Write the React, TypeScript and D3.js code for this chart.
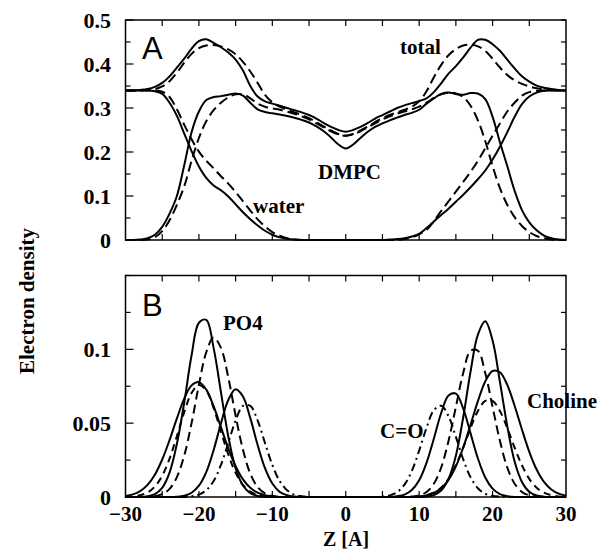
import React from "react";
import * as d3 from "d3";

// z grid: -30..30 step 1 Å
const zValues: number[] = d3.range(-30, 31, 1);

// Panel A: electron densities
const totalSolid = [
  0.340, 0.340, 0.341, 0.343, 0.348, 0.357, 0.372, 0.392, 0.412, 0.435,
  0.452, 0.456, 0.448, 0.438, 0.426, 0.410, 0.385, 0.350, 0.326, 0.315,
  0.310, 0.305, 0.300, 0.295, 0.290, 0.284, 0.276, 0.266, 0.257, 0.250,
  0.246,
  0.250, 0.257, 0.266, 0.276, 0.284, 0.292, 0.300, 0.306, 0.311, 0.316,
  0.322, 0.336, 0.356, 0.378, 0.395, 0.415, 0.437, 0.455, 0.455, 0.445,
  0.430, 0.410, 0.390, 0.372, 0.360, 0.351, 0.346, 0.343, 0.341, 0.340,
];
const totalDashed = [
  0.340, 0.340, 0.340, 0.341, 0.343, 0.349, 0.361, 0.380, 0.403, 0.423,
  0.436, 0.442, 0.443, 0.440, 0.433, 0.422, 0.405, 0.383, 0.357, 0.330,
  0.313, 0.303, 0.296, 0.290, 0.284, 0.277, 0.268, 0.258, 0.249, 0.241,
  0.237,
  0.241, 0.249, 0.258, 0.268, 0.277, 0.284, 0.290, 0.296, 0.303, 0.315,
  0.338, 0.370, 0.398, 0.420, 0.434, 0.442, 0.444, 0.440, 0.430, 0.412,
  0.392, 0.375, 0.363, 0.355, 0.349, 0.345, 0.342, 0.341, 0.340, 0.340,
];
const dmpcSolid = [
  0.000, 0.000, 0.001, 0.004, 0.012, 0.030, 0.060, 0.100, 0.170, 0.245,
  0.292, 0.318, 0.325, 0.327, 0.330, 0.333, 0.328, 0.312, 0.297, 0.291,
  0.288, 0.285, 0.282, 0.278, 0.273, 0.267, 0.258, 0.247, 0.233, 0.217,
  0.208,
  0.217, 0.232, 0.246, 0.257, 0.265, 0.272, 0.278, 0.284, 0.289, 0.296,
  0.310, 0.322, 0.332, 0.335, 0.332, 0.330, 0.334, 0.333, 0.320, 0.280,
  0.222, 0.168, 0.112, 0.068, 0.040, 0.022, 0.010, 0.004, 0.001, 0.000,
];
const dmpcDashed = [
  0.000, 0.000, 0.000, 0.001, 0.006, 0.020, 0.045, 0.080, 0.122, 0.180,
  0.232, 0.270, 0.295, 0.312, 0.324, 0.331, 0.331, 0.322, 0.310, 0.303,
  0.299, 0.296, 0.292, 0.287, 0.281, 0.274, 0.265, 0.256, 0.247, 0.240,
  0.237,
  0.240, 0.247, 0.256, 0.265, 0.274, 0.281, 0.287, 0.292, 0.297, 0.303,
  0.312, 0.323, 0.331, 0.335, 0.333, 0.325, 0.305, 0.272, 0.225, 0.168,
  0.118, 0.080, 0.052, 0.032, 0.018, 0.009, 0.004, 0.001, 0.000, 0.000,
];
const waterSolid = [
  0.340, 0.340, 0.340, 0.340, 0.338, 0.332, 0.312, 0.282, 0.242, 0.202,
  0.167, 0.141, 0.124, 0.113, 0.099, 0.081, 0.063, 0.047, 0.033, 0.021,
  0.012, 0.006, 0.003, 0.001, 0.000, 0.000, 0.000, 0.000, 0.000, 0.000,
  0.000,
  0.000, 0.000, 0.000, 0.000, 0.000, 0.001, 0.002, 0.004, 0.008, 0.014,
  0.027, 0.042, 0.057, 0.071, 0.087, 0.103, 0.120, 0.138, 0.158, 0.183,
  0.212, 0.245, 0.280, 0.309, 0.326, 0.335, 0.339, 0.340, 0.340, 0.340,
];
const waterDashed = [
  0.340, 0.340, 0.340, 0.340, 0.340, 0.337, 0.325, 0.297, 0.262, 0.229,
  0.201, 0.180, 0.163, 0.145, 0.128, 0.109, 0.088, 0.067, 0.047, 0.031,
  0.018, 0.010, 0.004, 0.001, 0.000, 0.000, 0.000, 0.000, 0.000, 0.000,
  0.000,
  0.000, 0.000, 0.000, 0.000, 0.000, 0.000, 0.000, 0.002, 0.006, 0.013,
  0.023, 0.043, 0.066, 0.088, 0.110, 0.132, 0.155, 0.180, 0.208, 0.237,
  0.265, 0.292, 0.312, 0.328, 0.336, 0.339, 0.340, 0.340, 0.340, 0.340,
];

// Panel B: group densities
const po4Solid = [
  0, 0, 0, 0.0005, 0.002, 0.0062, 0.0165, 0.036, 0.064, 0.096,
  0.118, 0.120, 0.101, 0.071, 0.041, 0.0195, 0.0078, 0.0026, 0.0007, 0,
  0, 0, 0, 0, 0, 0, 0, 0, 0, 0,
  0,
  0, 0, 0, 0, 0, 0, 0, 0, 0, 0,
  0.0003, 0.0013, 0.0044, 0.0123, 0.028, 0.054, 0.085, 0.110, 0.119, 0.106,
  0.078, 0.048, 0.024, 0.0102, 0.0035, 0.001, 0.0002, 0, 0, 0,
];
const po4Dashed = [
  0, 0, 0, 0, 0.0005, 0.0019, 0.0055, 0.0135, 0.028, 0.050,
  0.076, 0.098, 0.108, 0.101, 0.081, 0.055, 0.032, 0.0158, 0.0067, 0.0024,
  0.0007, 0, 0, 0, 0, 0, 0, 0, 0, 0,
  0,
  0, 0, 0, 0, 0, 0, 0, 0, 0.0003, 0.0011,
  0.0034, 0.009, 0.020, 0.038, 0.061, 0.084, 0.099, 0.099, 0.084, 0.061,
  0.038, 0.020, 0.009, 0.0034, 0.0011, 0.0003, 0, 0, 0, 0,
];
const coSolid = [
  0, 0, 0, 0, 0, 0, 0, 0.0002, 0.0009, 0.0029,
  0.0077, 0.0169, 0.0317, 0.0498, 0.0657, 0.0729, 0.068, 0.0534, 0.0352, 0.0195,
  0.0091, 0.0035, 0.0012, 0.0003, 0, 0, 0, 0, 0, 0,
  0,
  0, 0, 0, 0, 0, 0, 0.0005, 0.0016, 0.0047, 0.0113,
  0.0231, 0.0395, 0.0569, 0.0688, 0.070, 0.0599, 0.0431, 0.0261, 0.0132, 0.0057,
  0.002, 0.0006, 0, 0, 0, 0, 0, 0, 0, 0,
];
const coDashDot = [
  0, 0, 0, 0, 0, 0, 0, 0, 0, 0.0005,
  0.0016, 0.0046, 0.0108, 0.0217, 0.0366, 0.0518, 0.0617, 0.0617, 0.0518, 0.0366,
  0.0217, 0.0108, 0.0046, 0.0016, 0.0005, 0, 0, 0, 0, 0,
  0,
  0, 0, 0, 0, 0.0003, 0.0011, 0.0033, 0.0084, 0.0177, 0.0314,
  0.0468, 0.0587, 0.0618, 0.0547, 0.0407, 0.0255, 0.0134, 0.0059, 0.0022, 0.0007,
  0.0002, 0, 0, 0, 0, 0, 0, 0, 0, 0,
];
const cholineSolid = [
  0.0007, 0.0018, 0.004, 0.0082, 0.0151, 0.0254, 0.0385, 0.0532, 0.0666, 0.0756,
  0.0778, 0.0727, 0.0615, 0.0473, 0.0329, 0.0208, 0.0119, 0.0062, 0.0029, 0.0012,
  0.0005, 0, 0, 0, 0, 0, 0, 0, 0, 0,
  0,
  0, 0, 0, 0, 0, 0, 0, 0, 0, 0,
  0.0011, 0.0027, 0.0059, 0.0116, 0.0207, 0.0335, 0.0489, 0.0649, 0.0782, 0.0853,
  0.0845, 0.0759, 0.0618, 0.0457, 0.0306, 0.0186, 0.0102, 0.0051, 0.0023, 0.0009,
];
const cholineDashed = [
  0, 0.0004, 0.0012, 0.003, 0.0071, 0.0144, 0.026, 0.0412, 0.0574, 0.0704,
  0.0759, 0.0722, 0.0603, 0.0445, 0.0288, 0.0164, 0.0082, 0.0036, 0.0014, 0.0005,
  0, 0, 0, 0, 0, 0, 0, 0, 0, 0,
  0,
  0, 0, 0, 0, 0, 0, 0, 0, 0.0001, 0.0004,
  0.0012, 0.0029, 0.0063, 0.0123, 0.0215, 0.0334, 0.0467, 0.0582, 0.0651, 0.0651,
  0.0582, 0.0467, 0.0334, 0.0215, 0.0123, 0.0063, 0.0029, 0.0012, 0.0004, 0.0001,
];

const xTickLabels = [-30, -20, -10, 0, 10, 20, 30];
const topYTickLabels = [0, 0.1, 0.2, 0.3, 0.4, 0.5];
const bottomYTickLabels = [0, 0.05, 0.1];

const serif = "'Liberation Serif', 'Times New Roman', serif";
const sans = "'Liberation Sans', Arial, sans-serif";

const LEFT = 125.5;
const RIGHT = 566;
const topPanel = { top: 20, bottom: 240, max: 0.5 };
const botPanel = { top: 275.5, bottom: 497, max: 0.15 };

const x = d3.scaleLinear().domain([-30, 30]).range([LEFT, RIGHT]);
const yTop = d3.scaleLinear().domain([0, topPanel.max]).range([topPanel.bottom, topPanel.top]);
const yBot = d3.scaleLinear().domain([0, botPanel.max]).range([botPanel.bottom, botPanel.top]);

function makePath(values: number[], y: d3.ScaleLinear<number, number>) {
  const line = d3
    .line<number>()
    .x((_, i) => x(zValues[i]))
    .y((v) => y(v))
    .curve(d3.curveCatmullRom.alpha(0.5));
  return line(values) || "";
}

type Series = { values: number[]; dash?: string };

const topSeries: Series[] = [
  { values: totalSolid },
  { values: totalDashed, dash: "10,5" },
  { values: dmpcSolid },
  { values: dmpcDashed, dash: "10,5" },
  { values: waterSolid },
  { values: waterDashed, dash: "10,5" },
];

const botSeries: Series[] = [
  { values: po4Solid },
  { values: po4Dashed, dash: "9,5" },
  { values: coSolid },
  { values: coDashDot, dash: "8,4,2,4" },
  { values: cholineSolid },
  { values: cholineDashed, dash: "7,5" },
];

function Panel({
  y,
  panel,
  series,
  yTicksMinor,
  yLabels,
  fmt,
}: {
  y: d3.ScaleLinear<number, number>;
  panel: { top: number; bottom: number; max: number };
  series: Series[];
  yTicksMinor: number[];
  yLabels: number[];
  fmt: (v: number) => string;
}) {
  const xTicks = d3.range(-25, 30, 5);
  return (
    <g>
      {series.map((s, i) => (
        <path
          key={i}
          d={makePath(s.values, y)}
          fill="none"
          stroke="#000"
          strokeWidth={2}
          strokeDasharray={s.dash}
          strokeLinejoin="round"
        />
      ))}
      <rect
        x={LEFT}
        y={panel.top}
        width={RIGHT - LEFT}
        height={panel.bottom - panel.top}
        fill="none"
        stroke="#000"
        strokeWidth={1.5}
      />
      {xTicks.map((t) => (
        <g key={"xt" + t}>
          <line x1={x(t)} x2={x(t)} y1={panel.bottom} y2={panel.bottom - 6} stroke="#000" strokeWidth={1.2} />
          <line x1={x(t)} x2={x(t)} y1={panel.top} y2={panel.top + 6} stroke="#000" strokeWidth={1.2} />
        </g>
      ))}
      {yTicksMinor.map((t) => {
        const major = yLabels.some((l) => Math.abs(l - t) < 1e-9);
        return (
          <g key={"yt" + t}>
            <line x1={LEFT} x2={LEFT + (major ? 8 : 5)} y1={y(t)} y2={y(t)} stroke="#000" strokeWidth={1.2} />
            <line x1={RIGHT} x2={RIGHT - 5} y1={y(t)} y2={y(t)} stroke="#000" strokeWidth={1.2} />
          </g>
        );
      })}
      {yLabels.map((t) => (
        <text
          key={"yl" + t}
          x={111}
          y={y(t)}
          dy="0.35em"
          textAnchor="end"
          fontFamily={serif}
          fontWeight="bold"
          fontSize={22}
        >
          {fmt(t)}
        </text>
      ))}
    </g>
  );
}

export default function App() {
  const topMinor = d3.range(0, 0.5001, 0.05).map((v) => +v.toFixed(3));
  const botMinor = d3.range(0, 0.1501, 0.025).map((v) => +v.toFixed(3));
  return (
    <svg
      width={601}
      height={555}
      style={{ position: "absolute", left: 0, top: 0, background: "#fff" }}
    >
      <rect x={0} y={0} width={601} height={555} fill="#fff" />
      <Panel
        y={yTop}
        panel={topPanel}
        series={topSeries}
        yTicksMinor={topMinor}
        yLabels={topYTickLabels}
        fmt={(v) => (v === 0 ? "0" : d3.format(".1f")(v))}
      />
      <Panel
        y={yBot}
        panel={botPanel}
        series={botSeries}
        yTicksMinor={botMinor}
        yLabels={bottomYTickLabels}
        fmt={(v) => (v === 0 ? "0" : String(v))}
      />
      {xTickLabels.map((t) => (
        <text
          key={"xl" + t}
          x={x(t)}
          y={521}
          textAnchor="middle"
          fontFamily={serif}
          fontWeight="bold"
          fontSize={21}
        >
          {t < 0 ? "\u2212" + Math.abs(t) : String(t)}
        </text>
      ))}
      <text x={346} y={546} textAnchor="middle" fontFamily={serif} fontWeight="bold" fontSize={20}>
        Z [A]
      </text>
      <text
        transform="translate(34,301) rotate(-90)"
        textAnchor="middle"
        fontFamily={serif}
        fontWeight="bold"
        fontSize={21}
      >
        Electron density
      </text>
      <text x={142} y={59} fontFamily={sans} fontSize={31}>A</text>
      <text x={142} y={316} fontFamily={sans} fontSize={31}>B</text>
      <text x={400} y={54} fontFamily={serif} fontWeight="bold" fontSize={21}>total</text>
      <text x={318} y={179} fontFamily={serif} fontWeight="bold" fontSize={21}>DMPC</text>
      <text x={253} y={213} fontFamily={serif} fontWeight="bold" fontSize={21}>water</text>
      <text x={223} y={330} fontFamily={serif} fontWeight="bold" fontSize={21}>PO4</text>
      <text x={380} y={438} fontFamily={serif} fontWeight="bold" fontSize={21}>C=O</text>
      <text x={527} y={408} fontFamily={serif} fontWeight="bold" fontSize={21}>Choline</text>
    </svg>
  );
}
